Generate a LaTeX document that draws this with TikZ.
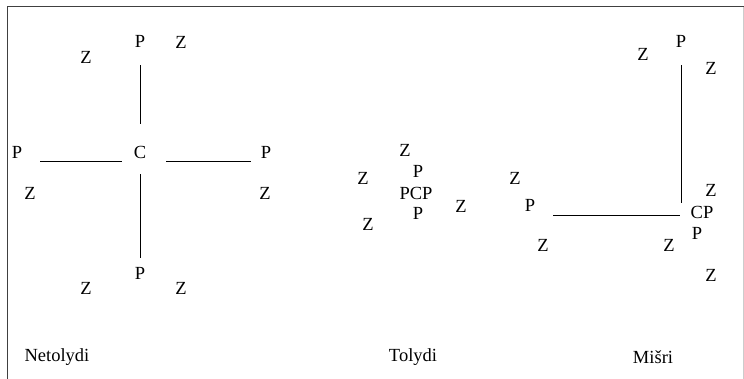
\documentclass[tikz,border=0pt]{standalone}
\usepackage{fontspec}
\setmainfont{Liberation Serif}
\tikzset{
  atom/.style={inner sep=0pt, font=\fontsize{18.5}{22}\selectfont},
  caption/.style={inner sep=0pt, font=\fontsize{18.5}{22}\selectfont},
  bond/.style={line width=1pt}
}
\begin{document}
\begin{tikzpicture}[x=1pt,y=-1pt]
	\useasboundingbox (0,0) rectangle (744,379);
	% frame
	\draw[line width=1pt,black!75] (7,385) -- (7,7) -- (744,7);
	\draw[line width=0.6pt,black!20] (743,7) -- (743,385);
	% Netolydi
	\node[atom] (nc) at (140,152) {C};
	\node[atom] (nptop) at (140,41) {P};
	\node[atom] (npbot) at (140,273) {P};
	\node[atom] (npl) at (17,152) {P};
	\node[atom] (npr) at (266,152) {P};
	\node[atom] (nz1) at (86,57) {Z};
	\node[atom] (nz2) at (181,42) {Z};
	\node[atom] (nz3) at (30,193) {Z};
	\node[atom] (nz4) at (265,193) {Z};
	\node[atom] (nz5) at (86,288) {Z};
	\node[atom] (nz6) at (181,288) {Z};
	\draw[bond,shorten <=18pt,shorten >=22pt] (nptop) -- (nc);
	\draw[bond,shorten <=16pt,shorten >=9pt] (nc) -- (npbot);
	\draw[bond,shorten <=18pt,shorten >=12pt] ([yshift=-10pt]npl.east) -- ([yshift=-10pt]nc.west);
	\draw[bond,shorten <=20pt,shorten >=10pt] ([yshift=-10pt]nc.east) -- ([yshift=-10pt]npr.west);
	\node[caption] (lnet) at (57,357) {Netolydi};
	% Tolydi
	\node[atom] (tpcp) at (416,193) {PCP};
	\node[atom] (tpt) at (418,171) {P};
	\node[atom] (tpb) at (418,213) {P};
	\node[atom] (tz1) at (405,150) {Z};
	\node[atom] (tz2) at (363,178) {Z};
	\node[atom] (tz3) at (461,206) {Z};
	\node[atom] (tz4) at (368,224) {Z};
	\node[caption] (ltol) at (413,357) {Tolydi};
	% Misri
	\node[atom] (mcp) at (702,212) {CP};
	\node[atom] (mptop) at (681,41) {P};
	\node[atom] (mpl) at (530,205) {P};
	\node[atom] (mpb) at (697,233) {P};
	\node[atom] (mz1) at (643,54) {Z};
	\node[atom] (mz2) at (711,68) {Z};
	\node[atom] (mz3) at (515,178) {Z};
	\node[atom] (mz4) at (711,190) {Z};
	\node[atom] (mz5) at (543,245) {Z};
	\node[atom] (mz6) at (669,245) {Z};
	\node[atom] (mz7) at (711,275) {Z};
	\draw[bond,shorten <=18pt,shorten >=9pt] (mptop) -- (mptop |- mcp);
	\draw[bond,shorten <=18pt,shorten >=10pt] ([yshift=-11pt]mpl.east) -- ([yshift=-11pt]mpl.east -| mcp.west);
	\node[caption] (lmis) at (653,357) {Mišri};
\end{tikzpicture}
\end{document}
